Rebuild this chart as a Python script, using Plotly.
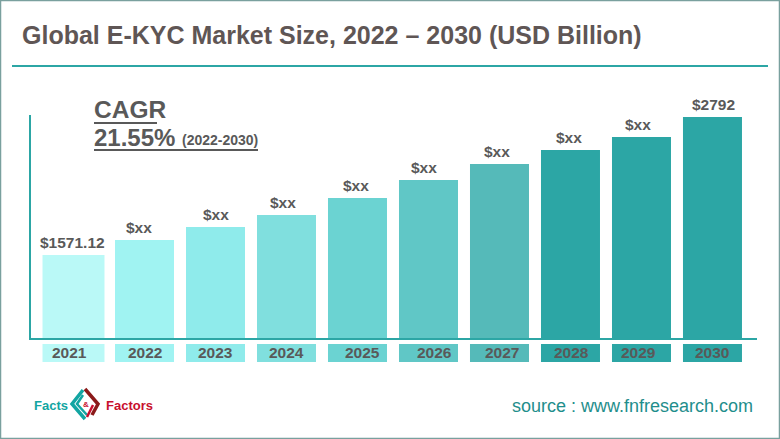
import plotly.graph_objects as go

W, H = 780, 439

years = ["2021", "2022", "2023", "2024", "2025", "2026", "2027", "2028", "2029", "2030"]
values = [1571.12, 1704, 1819, 1925, 2075, 2235, 2376, 2500, 2615, 2792]
labels = ["$1571.12", "$xx", "$xx", "$xx", "$xx", "$xx", "$xx", "$xx", "$xx", "$2792"]
colors = ["#BAF9F7", "#A0F3F2", "#8FEBEB", "#80DFDE", "#6BD3D2",
          "#60C7C6", "#55BAB9", "#2CA6A5", "#2CA6A5", "#2CA6A5"]
strip = [1] * 10
widths = [0.873] + [0.831] * 9
year_shift = [-4, 0, 0, 0, 5, 6, 3, 1, -3, 0]
label_shift = [-1, -5.5, 0, -3, -1, -4, -2, -1, -3, 1]

GRAY = "#595959"
TITLE = "#5F5655"
TEAL = "#2CA6A5"
FONT = "Liberation Sans"


def px(x):
    return x / W


def py(y):
    return 1 - y / H


fig = go.Figure()

# main bars
fig.add_trace(go.Bar(x=years, y=values, width=widths, marker=dict(color=colors, line_width=0),
                     hoverinfo="skip"))
# year strip under the axis
fig.add_trace(go.Bar(x=years, y=strip, width=widths, yaxis="y2",
                     marker=dict(color=colors, line_width=0), hoverinfo="skip"))

ann = []


def txt(s, x, y, size, color=GRAY, bold=False, anchor="left"):
    # annotations sit about 2px right of the anchor because of their padding
    ann.append(dict(text=f"<b>{s}</b>" if bold else s, x=px(x - 2), y=py(y), xref="paper", yref="paper",
                    xanchor=anchor, yanchor="middle", showarrow=False,
                    font=dict(family=FONT, size=size, color=color)))


txt("Global E-KYC Market Size, 2022 – 2030 (USD Billion)", 22, 35, 25, TITLE, True)
txt("CAGR", 94, 110, 24.5, GRAY, True)
txt("21.55%", 94, 137, 24, GRAY, True)
txt("(2022-2030)", 182, 140, 14, GRAY, True)
txt("source : www.fnfresearch.com", 512, 406, 18, "#1F8E8C")
txt("Facts", 34, 405, 13, "#12A5A2", True)
txt("Factors", 106, 405, 13, "#C8102E", True)
txt("&", 83, 404, 8, "#C8102E", True)

for i, (yr, shift) in enumerate(zip(years, year_shift)):
    ann.append(dict(text=f"<b>{yr}</b>", x=i, y=0.5, xref="x", yref="y2", xshift=shift, yshift=1,
                    showarrow=False, font=dict(family=FONT, size=15.5, color=GRAY)))

# value labels, the source has them a little off centre
for i, (v, lab, shift) in enumerate(zip(values, labels, label_shift)):
    ann.append(dict(text=f"<b>{lab}</b>", x=i, y=v, xref="x", yref="y", xshift=shift, yshift=2,
                    yanchor="bottom", showarrow=False, font=dict(family=FONT, size=15.5, color=GRAY)))


def line(x0, y0, x1, y1, color, width):
    return dict(type="line", xref="paper", yref="paper", x0=px(x0), y0=py(y0), x1=px(x1), y1=py(y1),
                line=dict(color=color, width=width))


def poly(pts, color, width):
    path = "M " + " L ".join(f"{px(a):.5f},{py(b):.5f}" for a, b in pts)
    return dict(type="path", path=path, xref="paper", yref="paper",
                line=dict(color=color, width=width))


shapes = [
    dict(type="rect", xref="paper", yref="paper", x0=px(0.5), y0=py(0.5), x1=px(W - 0.5), y1=py(H - 0.5),
         line=dict(color="#7AA09E", width=1.5)),
    line(12, 66, 768, 66, TEAL, 2),
    line(94, 123, 157, 123, GRAY, 2),
    line(94, 150, 258, 150, GRAY, 2),
    # logo
    poly([(83, 390), (72, 404), (85, 419)], "#12A5A2", 3.5),
    poly([(83, 395), (77, 404), (87, 415)], "#12A5A2", 2.5),
    poly([(85, 389), (98, 404), (92, 415)], "#8B1A1A", 3.5),
    poly([(93, 405), (87, 417)], "#C8102E", 2.5),
]

fig.update_layout(
    width=W, height=H, margin=dict(l=0, r=0, t=0, b=0), autosize=False,
    paper_bgcolor="white", plot_bgcolor="white", showlegend=False, barmode="overlay",
    annotations=ann, shapes=shapes,
    xaxis=dict(domain=[px(31), px(757)], range=[-0.5986, 9.627], type="category", anchor="y",
               categoryorder="array", categoryarray=years, showgrid=False, showticklabels=False,
               ticks="", showline=True, linecolor=TEAL, linewidth=2, zeroline=False),
    yaxis=dict(domain=[py(338), py(115)], range=[837, 2810], showgrid=False, showticklabels=False,
               ticks="", showline=True, linecolor=TEAL, linewidth=2, zeroline=False),
    yaxis2=dict(domain=[py(362), py(344)], range=[0, 1], anchor="x", showgrid=False,
                showticklabels=False, ticks="", showline=False, zeroline=False),
)

fig.write_html("out.html", config={"displayModeBar": False},
               post_script="document.body.style.margin='0';document.body.style.overflow='hidden';")
